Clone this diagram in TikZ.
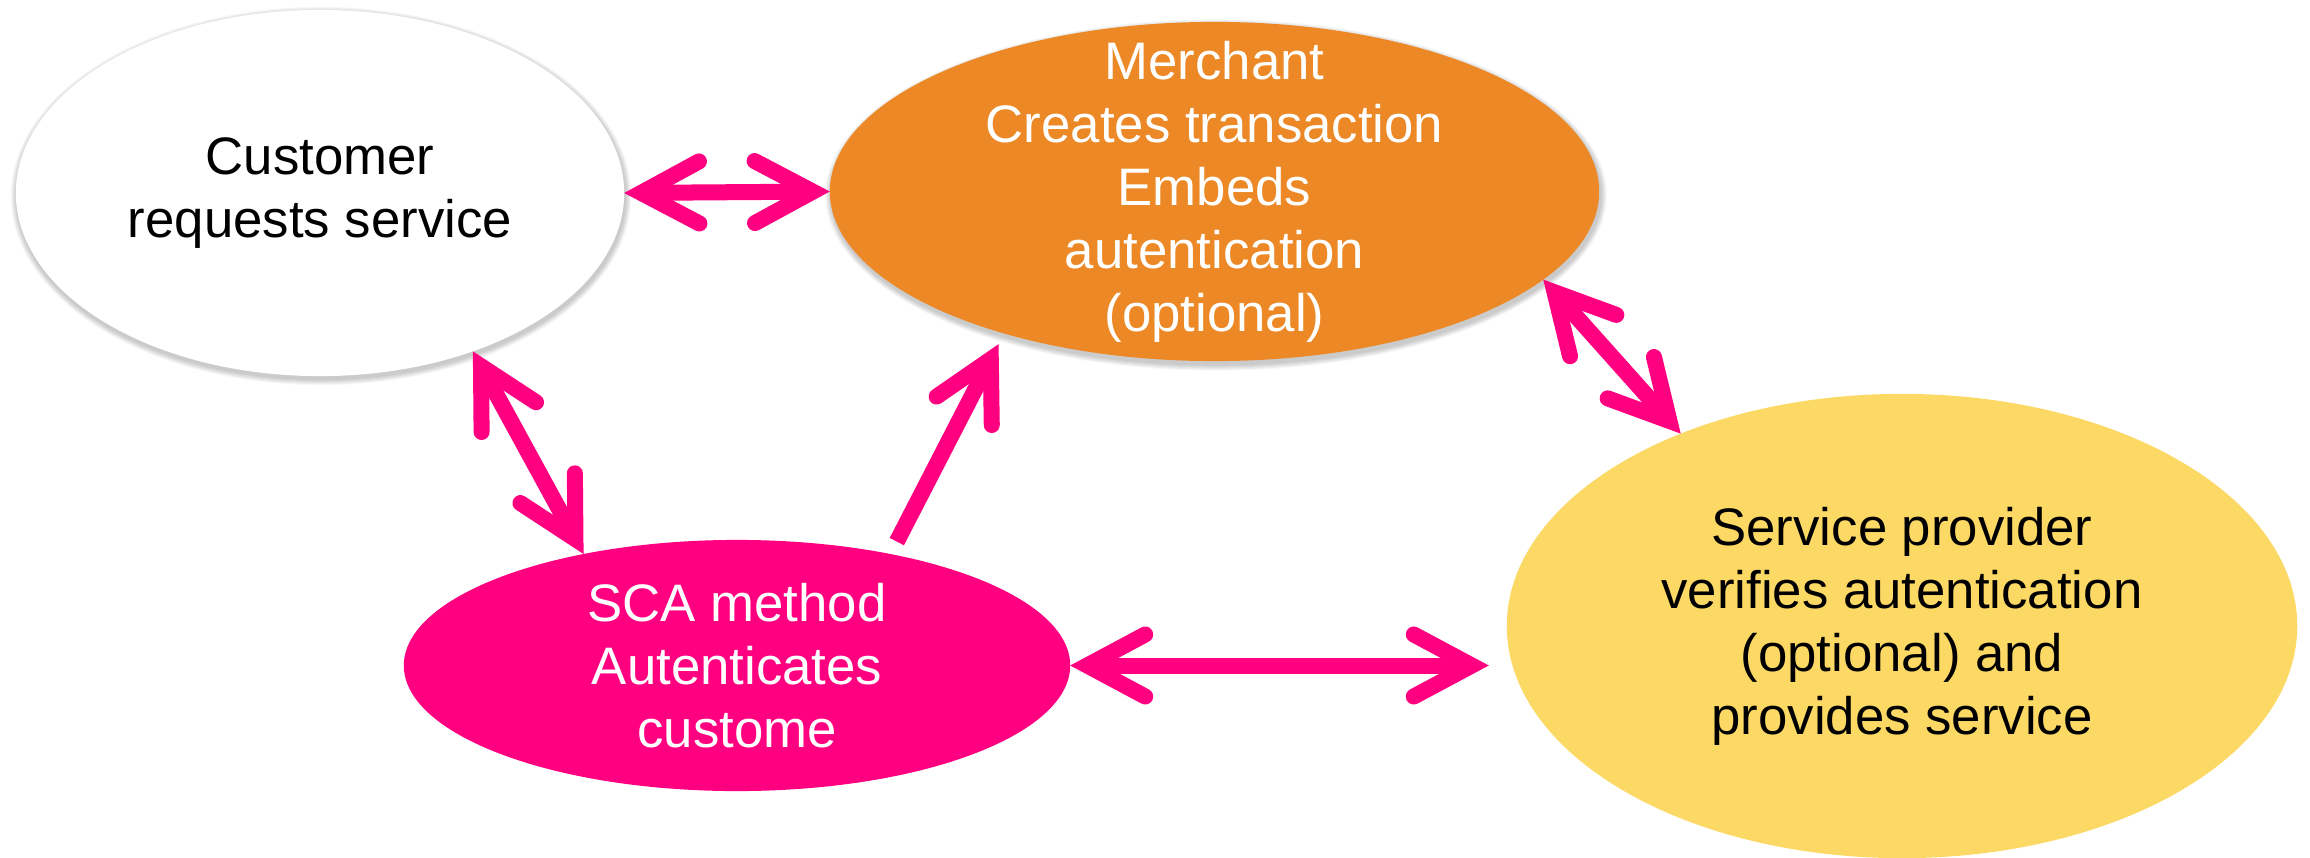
\documentclass[tikz,border=0pt]{standalone}
\usepackage{fontspec}
\setmainfont{Liberation Sans}
\usetikzlibrary{shapes.geometric,arrows.meta,calc}
\definecolor{pinkc}{RGB}{255,0,128}
\definecolor{orangec}{RGB}{236,137,38}
\definecolor{yellowc}{RGB}{252,216,100}
\begin{document}
\begin{tikzpicture}[x=0.01cm,y=-0.01cm,
  ell/.style={ellipse, inner sep=0pt, outer sep=0pt},
  lbl/.style={align=center, inner sep=0pt, font=\fontsize{15}{17.9}\selectfont},
  shad/.style={fill=black, opacity=0.035},
  conn/.style={draw=pinkc, line width=0.16cm},
  barb/.tip={Straight Barb[length=0.58cm, width=0.62cm, line cap=round, line join=miter]},
  dbl/.style={conn, barb-barb},
  sgl/.style={conn, -barb}]
\fill[white] (0,0) rectangle (2310,858);
\useasboundingbox (0,0) rectangle (2310,858);
% soft shadows
\foreach \d in {1,2,3,4,5,6}{
  \fill[shad] (321,196) ellipse [x radius=3.04cm+\d*0.01cm, y radius=1.83cm+\d*0.01cm];
  \fill[shad] (1216,195) ellipse [x radius=3.845cm+\d*0.01cm, y radius=1.695cm+\d*0.01cm];
}
% ellipses
\node[ell, fill=white, minimum width=6.08cm, minimum height=3.66cm] (c) at (320,193) {};
\node[ell, fill=orangec, minimum width=7.69cm, minimum height=3.39cm] (m) at (1214.5,191.5) {};
\node[ell, fill=pinkc, minimum width=6.66cm, minimum height=2.51cm] (s) at (737,665.5) {};
\node[ell, fill=yellowc, minimum width=7.90cm, minimum height=4.64cm] (sp) at (1902,626) {};
% labels
\node[lbl, text=black] (ct) at (c.center) {Customer\\requests service};
\node[lbl, text=white] (mt) at (m.center) {Merchant\\Creates transaction\\Embeds\\autentication\\(optional)};
\node[lbl, text=white] (st) at (s.center) {SCA method\\Autenticates\\custome};
\node[lbl, text=black] (spt) at (sp.center) {Service provider\\verifies autentication\\(optional) and\\provides service};
% connectors
\draw[dbl] (c.east) -- (m.west);
\draw[dbl] (c.-46) -- (s.144);
\draw[sgl, shorten <=0.14cm, shorten >=0.12cm] (s.36) -- (m.214);
\draw[dbl] (m.-15.5) -- (sp.139);
\draw[dbl, shorten >=0.18cm] (s.east) -- (s.east -| sp.west);
\end{tikzpicture}
\end{document}
